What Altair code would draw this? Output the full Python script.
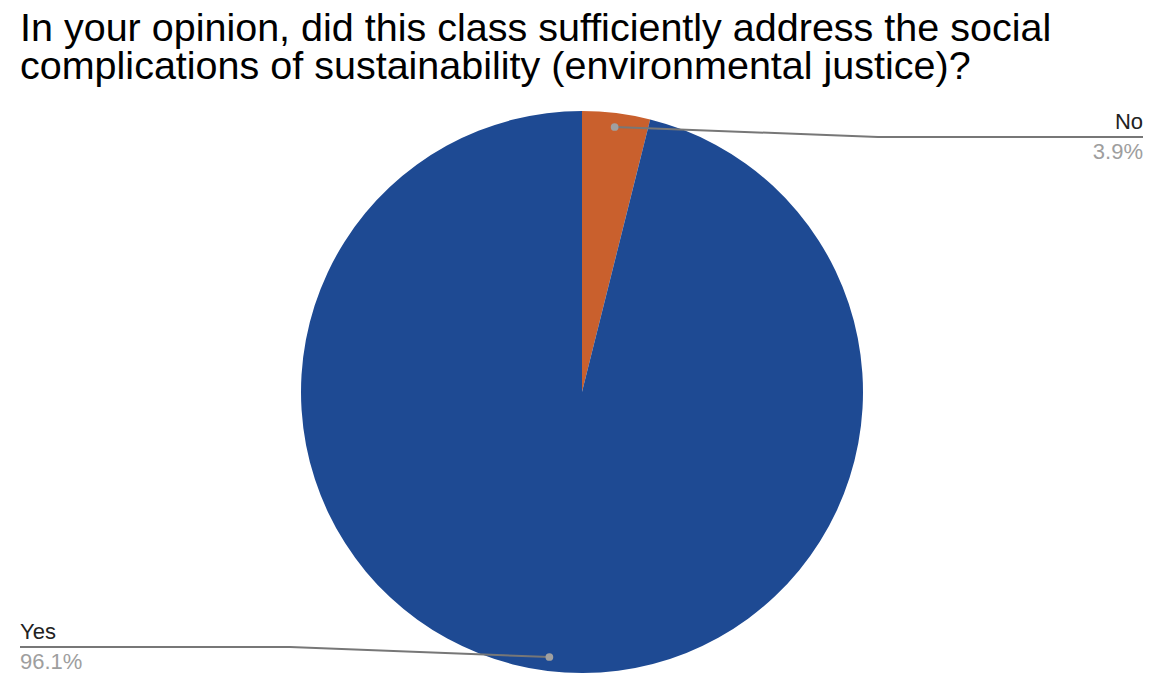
import math
import altair as alt
import pandas as pd

# ---- data ----
categories = ["No", "Yes"]
values = [3.9, 96.1]
colors = ["#c9602d", "#1e4a93"]
title_lines = [
    "In your opinion, did this class sufficiently address the social",
    "complications of sustainability (environmental justice)?",
]

# ---- layout constants ----
W, H = 1140, 672
CX, CY, R = 574, 384, 281
FONT = "Liberation Sans"

pie_df = pd.DataFrame({"cat": categories, "val": values, "ord": [0, 1]})

# leader-line geometry derived from slice mid-angles
total = sum(values)
cum = 0.0
dots, lines, labels = [], [], []
for cat, v in zip(categories, values):
    mid = (cum + v / 2) / total * 2 * math.pi
    cum += v
    rr = 267
    dx = CX + rr * math.sin(mid)
    dy = CY - rr * math.cos(mid)
    dots.append({"cat": cat, "x": dx, "y": dy})
    if math.sin(mid) >= 0:
        ex, ey, endx, align = 870, dy + 10, 1135, "right"
    else:
        ex, ey, endx, align = 282, dy - 10, 12, "left"
    for i, (px, py) in enumerate([(dx, dy), (ex, ey), (endx, ey)]):
        lines.append({"cat": cat, "x": px, "y": py, "i": i})
    labels.append({"txt": cat, "x": endx, "y": ey - 8, "kind": "name", "align": align})
    labels.append({"txt": f"{v}%", "x": endx, "y": ey + 22, "kind": "pct", "align": align})

dots_df = pd.DataFrame(dots)
lines_df = pd.DataFrame(lines)
labels_df = pd.DataFrame(labels)
title_df = pd.DataFrame({"txt": title_lines, "x": [12, 12], "y": [33, 71]})

xs = alt.Scale(domain=[0, W], range=[0, W])
ys = alt.Scale(domain=[0, H], range=[0, H])

pie = alt.Chart(pie_df).mark_arc(outerRadius=R).encode(
    theta=alt.Theta("val:Q", stack=True),
    order=alt.Order("ord:Q"),
    color=alt.Color("cat:N", scale=alt.Scale(domain=categories, range=colors), legend=None),
    x=alt.value(CX),
    y=alt.value(CY),
)

leader = alt.Chart(lines_df).mark_line(color="#777777", strokeWidth=2).encode(
    x=alt.X("x:Q", scale=xs, axis=None),
    y=alt.Y("y:Q", scale=ys, axis=None),
    detail="cat:N",
    order="i:Q",
)

dot = alt.Chart(dots_df).mark_circle(size=60, color="#a0a0a0", opacity=1).encode(
    x=alt.X("x:Q", scale=xs, axis=None),
    y=alt.Y("y:Q", scale=ys, axis=None),
)


def label_layer(kind, align, color):
    return alt.Chart(labels_df).transform_filter(
        (alt.datum.kind == kind) & (alt.datum.align == align)
    ).mark_text(font=FONT, fontSize=22, color=color, align=align, baseline="alphabetic").encode(
        x=alt.X("x:Q", scale=xs, axis=None),
        y=alt.Y("y:Q", scale=ys, axis=None),
        text="txt:N",
    )


title = alt.Chart(title_df).mark_text(
    font=FONT, fontSize=39.5, color="#000000", align="left", baseline="alphabetic"
).encode(x=alt.X("x:Q", scale=xs, axis=None), y=alt.Y("y:Q", scale=ys, axis=None), text="txt:N")

chart = alt.layer(
    pie, leader, dot,
    label_layer("name", "right", "#222222"),
    label_layer("name", "left", "#222222"),
    label_layer("pct", "right", "#9e9e9e"),
    label_layer("pct", "left", "#9e9e9e"),
    title,
).properties(
    width=W, height=H, autosize=alt.AutoSizeParams(type="none"), padding=0, background="white",
).configure_view(stroke=None)

chart.save("out.html", embed_options={"renderer": "svg", "actions": False})
